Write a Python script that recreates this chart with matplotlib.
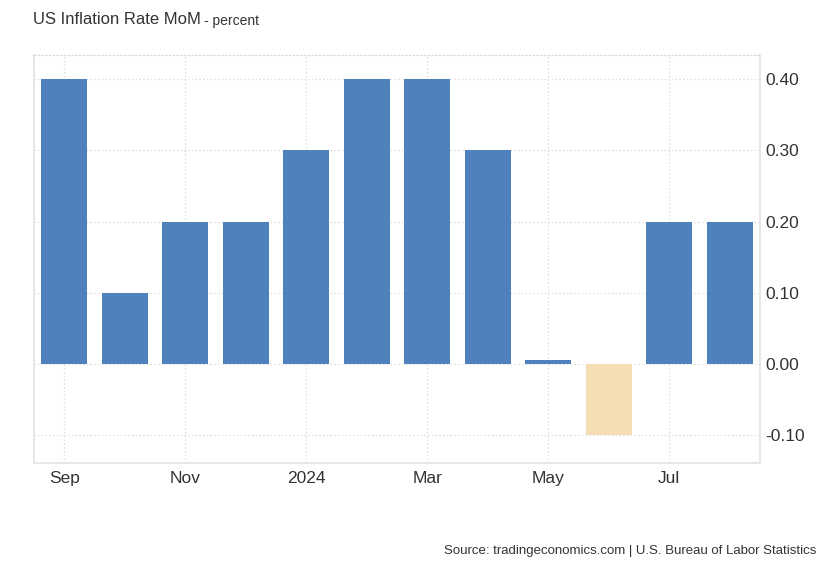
import matplotlib.pyplot as plt
import numpy as np

plt.rcParams['font.family'] = ['Liberation Sans', 'DejaVu Sans']

# Monthly values, Sep 2023 .. Aug 2024
months = ['Sep', 'Oct', 'Nov', 'Dec', '2024', 'Feb', 'Mar', 'Apr', 'May', 'Jun', 'Jul', 'Aug']
values = [0.4, 0.1, 0.2, 0.2, 0.3, 0.4, 0.4, 0.3, 0.006, -0.1, 0.2, 0.2]
tick_months = ['Sep', 'Nov', '2024', 'Mar', 'May', 'Jul']
y_ticks = [-0.1, 0.0, 0.1, 0.2, 0.3, 0.4]

fig = plt.figure(figsize=(8.3, 5.67), dpi=100)
ax = fig.add_axes([34 / 830, 1 - 463 / 567, (760 - 34) / 830, (463 - 55) / 567])

x = np.arange(len(values))
colors = ['#4f81bd' if v >= 0 else '#f5deb3' for v in values]
ax.bar(x, values, width=0.76, color=colors, zorder=3)

ax.set_xlim(-0.5, len(values) - 0.5)
ax.set_ylim(-0.139, 0.434)

# x ticks only on every other month
tick_pos = [months.index(m) for m in tick_months]
ax.set_xticks(tick_pos)
ax.set_xticklabels(tick_months)
ax.set_yticks(y_ticks)
ax.set_yticklabels([f'{v:.2f}' for v in y_ticks])

ax.yaxis.tick_right()
ax.tick_params(axis='y', length=0, labelsize=12.5, labelcolor='#333333', pad=4)
ax.tick_params(axis='x', length=0, labelsize=12.5, labelcolor='#333333', pad=6)

ax.grid(True, color='#d8d8d8', linestyle=(0, (1, 2)), linewidth=0.9, zorder=0)

for side in ['left', 'right', 'bottom']:
    ax.spines[side].set_color('#e3e3e3')
    ax.spines[side].set_linewidth(1.2)
ax.spines['top'].set_color('#d8d8d8')
ax.spines['top'].set_linestyle((0, (1, 2)))
ax.spines['top'].set_linewidth(0.9)

fig.text(33 / 830, 1 - 20 / 567, 'US Inflation Rate MoM', fontsize=12, color='#333333', va='center')
fig.text(204 / 830, 1 - 21 / 567, '- percent', fontsize=10, color='#333333', va='center')
fig.text(816 / 830, 1 - 551 / 567, 'Source: tradingeconomics.com | U.S. Bureau of Labor Statistics',
         fontsize=9.5, color='#333333', ha='right', va='center')

fig.savefig('out.png', dpi=100, facecolor='white')
